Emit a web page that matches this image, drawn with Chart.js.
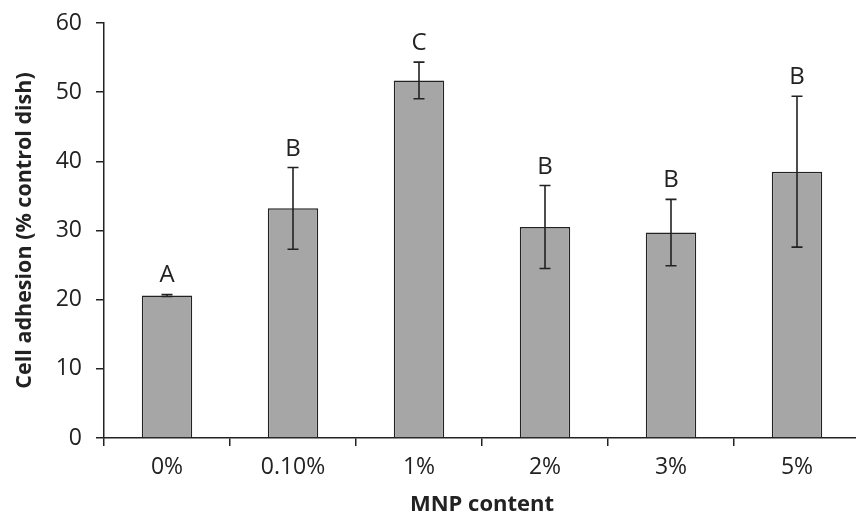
<!DOCTYPE html>
<html>
<head>
<meta charset="utf-8">
<script src="https://cdn.jsdelivr.net/npm/chart.js@4"></script>
<style>
  html, body { margin: 0; padding: 0; background: #fff; overflow: hidden; }
  #wrap { width: 860px; height: 522px; }
</style>
</head>
<body>
<div id="wrap"><canvas id="adhesionChart" width="860" height="522"></canvas></div>
<script>
const categories = ["0%", "0.10%", "1%", "2%", "3%", "5%"];
const adhesion = [20.6, 33.2, 51.7, 30.5, 29.7, 38.5];
const errors = [0.15, 5.9, 2.65, 6.0, 4.8, 10.9];
const groups = ["A", "B", "C", "B", "B", "B"];
const yTicks = [0, 10, 20, 30, 40, 50, 60];

const ink = "#222";
const font = "'Open Sans', sans-serif";

// error bars plus the letters above them
const errorBars = {
    id: "errorBars",
    afterDatasetsDraw(chart) {
        const ctx = chart.ctx;
        const y = chart.scales.y;
        const meta = chart.getDatasetMeta(0);
        ctx.save();
        ctx.strokeStyle = ink;
        ctx.lineWidth = 1.6;
        meta.data.forEach((bar, i) => {
            const top = y.getPixelForValue(adhesion[i] + errors[i]);
            const bot = y.getPixelForValue(adhesion[i] - errors[i]);
            ctx.beginPath();
            ctx.moveTo(bar.x, top);
            ctx.lineTo(bar.x, bot);
            ctx.moveTo(bar.x - 5.5, top);
            ctx.lineTo(bar.x + 5.5, top);
            ctx.moveTo(bar.x - 5.5, bot);
            ctx.lineTo(bar.x + 5.5, bot);
            ctx.stroke();

            ctx.fillStyle = ink;
            ctx.font = "24px " + font;
            ctx.textAlign = "center";
            ctx.textBaseline = "alphabetic";
            ctx.fillText(groups[i], bar.x, top - 12);
        });
        ctx.restore();
    }
};

new Chart(document.getElementById("adhesionChart"), {
    type: "bar",
    data: {
        labels: categories,
        datasets: [{
            data: adhesion,
            backgroundColor: "#a6a6a6",
            borderColor: ink,
            borderWidth: 1.5,
            categoryPercentage: 1,
            barPercentage: 0.4
        }]
    },
    options: {
        responsive: false,
        animation: false,
        layout: { padding: { top: 23, right: 0, left: 0, bottom: 0 } },
        plugins: { legend: { display: false }, tooltip: { enabled: false } },
        scales: {
            x: {
                afterFit: s => { s.height = 84; s.paddingLeft = 0; s.paddingRight = 0; },
                grid: { offset: true, drawOnChartArea: false, color: ink, tickLength: 8, lineWidth: 1.5 },
                border: { color: ink, width: 1.5 },
                ticks: { color: ink, font: { family: font, size: 23 }, padding: 8 },
                title: {
                    display: true, text: "MNP content", color: ink,
                    font: { family: font, size: 22, weight: "bold" },
                    padding: { top: 0, bottom: 4 }
                }
            },
            y: {
                min: 0, max: 60,
                afterFit: s => { s.width = 104; s.paddingTop = 0; s.paddingBottom = 0; },
                afterBuildTicks: s => { s.ticks = yTicks.map(v => ({ value: v })); },
                grid: { drawOnChartArea: false, color: ink, tickLength: 8, lineWidth: 1.5 },
                border: { color: ink, width: 1.5 },
                ticks: { color: ink, font: { family: font, size: 23 }, padding: 14 },
                title: {
                    display: true, text: "Cell adhesion (% control dish)", color: ink,
                    font: { family: font, size: 21.5, weight: "bold" },
                    padding: { top: 12, bottom: 0 }
                }
            }
        }
    },
    plugins: [errorBars]
});
</script>
</body>
</html>
